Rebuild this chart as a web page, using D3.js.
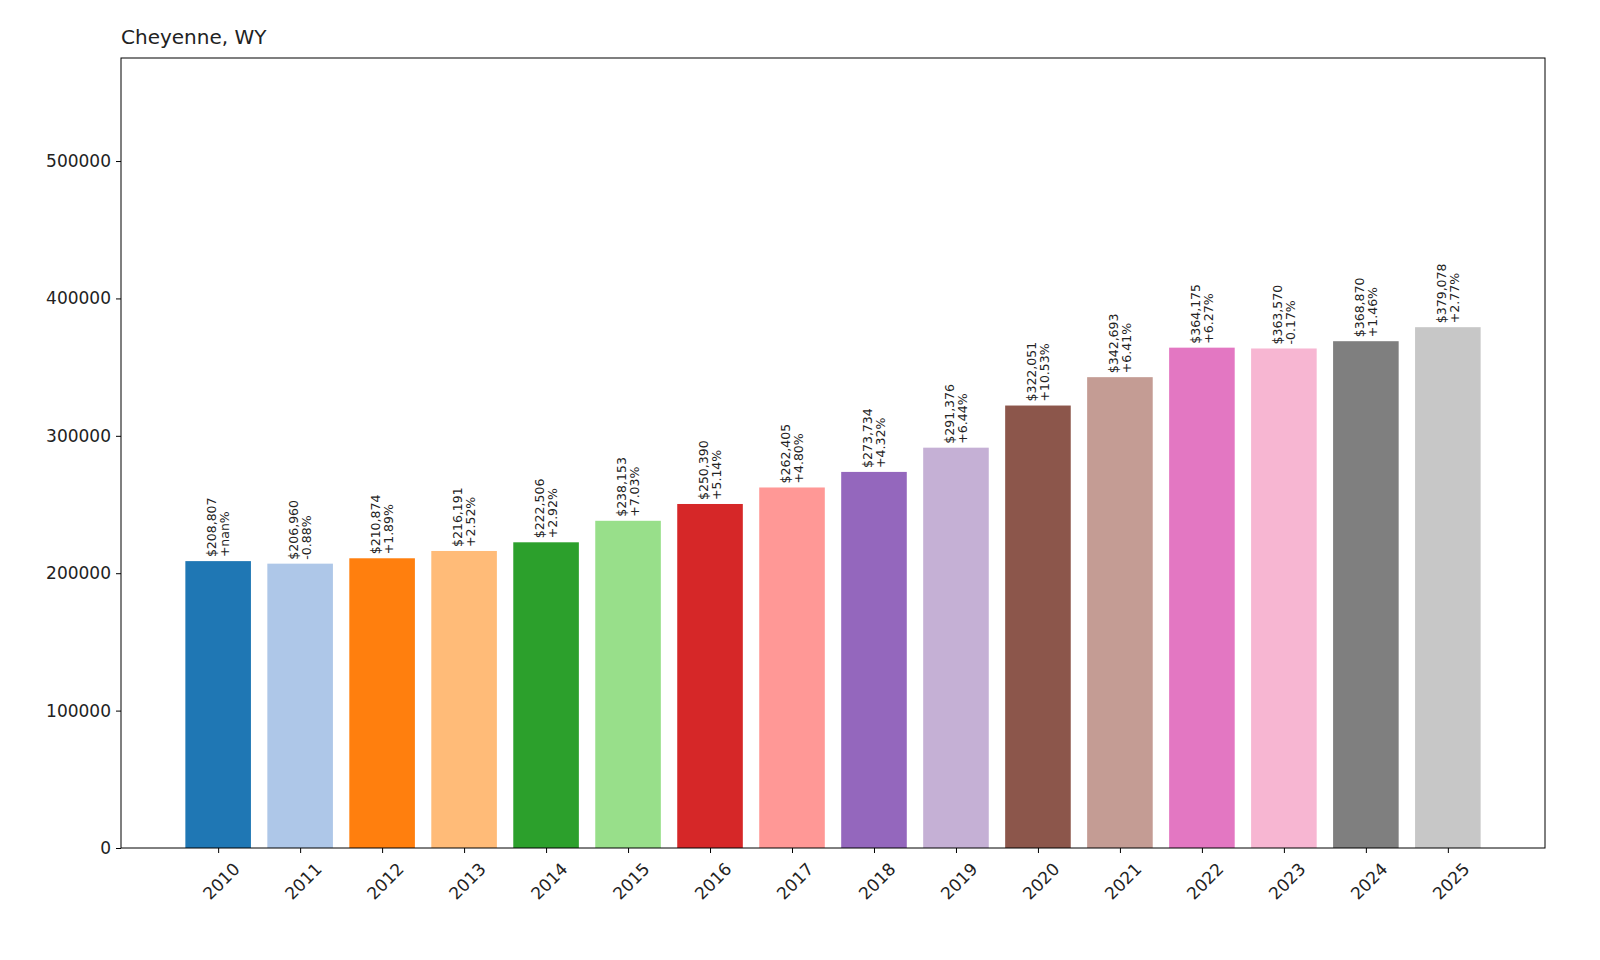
<!DOCTYPE html>
<html>
<head>
<meta charset="utf-8">
<script src="https://cdn.jsdelivr.net/npm/d3@7"></script>
<style>
  body { margin: 0; background: #fff; font-family: "DejaVu Sans", sans-serif; }
</style>
</head>
<body>
<svg id="chart" width="1600" height="960"></svg>
<script>
// values
const years = ["2010","2011","2012","2013","2014","2015","2016","2017","2018","2019","2020","2021","2022","2023","2024","2025"];
const values = [208807,206960,210874,216191,222506,238153,250390,262405,273734,291376,322051,342693,364175,363570,368870,379078];
const changes = ["+nan%","-0.88%","+1.89%","+2.52%","+2.92%","+7.03%","+5.14%","+4.80%","+4.32%","+6.44%","+10.53%","+6.41%","+6.27%","-0.17%","+1.46%","+2.77%"];
const yTicks = [0, 100000, 200000, 300000, 400000, 500000];
const palette = ["#1f77b4","#aec7e8","#ff7f0e","#ffbb78","#2ca02c","#98df8a","#d62728","#ff9896",
  "#9467bd","#c5b0d5","#8c564b","#c49c94","#e377c2","#f7b6d2","#7f7f7f","#c7c7c7"];

const svg = d3.select("#chart");
const mLeft = 121, mRight = 1545, mTop = 58, mBottom = 848;

const x = d3.scaleLinear().domain([-1.185, years.length - 1 + 1.185]).range([mLeft, mRight]);
const step = x(1) - x(0);
const barW = step * 0.8;
const y = d3.scaleLinear().domain([0, 575000]).range([mBottom, mTop]);
const color = d3.scaleOrdinal().domain(years).range(palette);

svg.append("g").selectAll("rect").data(values).enter().append("rect")
  .attr("x", (d, i) => x(i) - barW / 2)
  .attr("y", d => y(d))
  .attr("width", barW)
  .attr("height", d => mBottom - y(d))
  .attr("fill", (d, i) => color(years[i]));

// bar labels, rotated
const lab = svg.append("g").selectAll("text").data(values).enter().append("text")
  .attr("transform", (d, i) => `translate(${x(i)},${y(d) - 4}) rotate(-90)`)
  .attr("font-size", 12.5).attr("fill", "#222");
lab.append("tspan").attr("x", 0).attr("dy", -2).text(d => "$" + d3.format(",")(d));
lab.append("tspan").attr("x", 0).attr("dy", 13).text((d, i) => changes[i]);

// y axis
const ya = svg.append("g").attr("transform", `translate(${mLeft},0)`)
  .call(d3.axisLeft(y).tickValues(yTicks).tickFormat(d3.format("d")).tickSize(5).tickPadding(5));
ya.selectAll("text").attr("font-size", 17).attr("font-family", "DejaVu Sans").attr("fill", "#222");
ya.select(".domain").remove();

// x axis
const xa = svg.append("g").attr("transform", `translate(0,${mBottom})`)
  .call(d3.axisBottom(x).tickValues(d3.range(years.length)).tickFormat(i => years[i]).tickSize(5));
xa.select(".domain").remove();
xa.selectAll("text").attr("font-size", 17).attr("font-family", "DejaVu Sans").attr("fill", "#222")
  .attr("text-anchor", "end")
  .attr("transform", "translate(8,8) rotate(-45)");

svg.append("rect").attr("x", mLeft).attr("y", mTop).attr("width", mRight - mLeft).attr("height", mBottom - mTop)
  .attr("fill", "none").attr("stroke", "#000").attr("stroke-width", 1);

svg.append("text").attr("x", mLeft).attr("y", mTop - 14).attr("font-size", 20).attr("fill", "#222").text("Cheyenne, WY");
</script>
</body>
</html>
